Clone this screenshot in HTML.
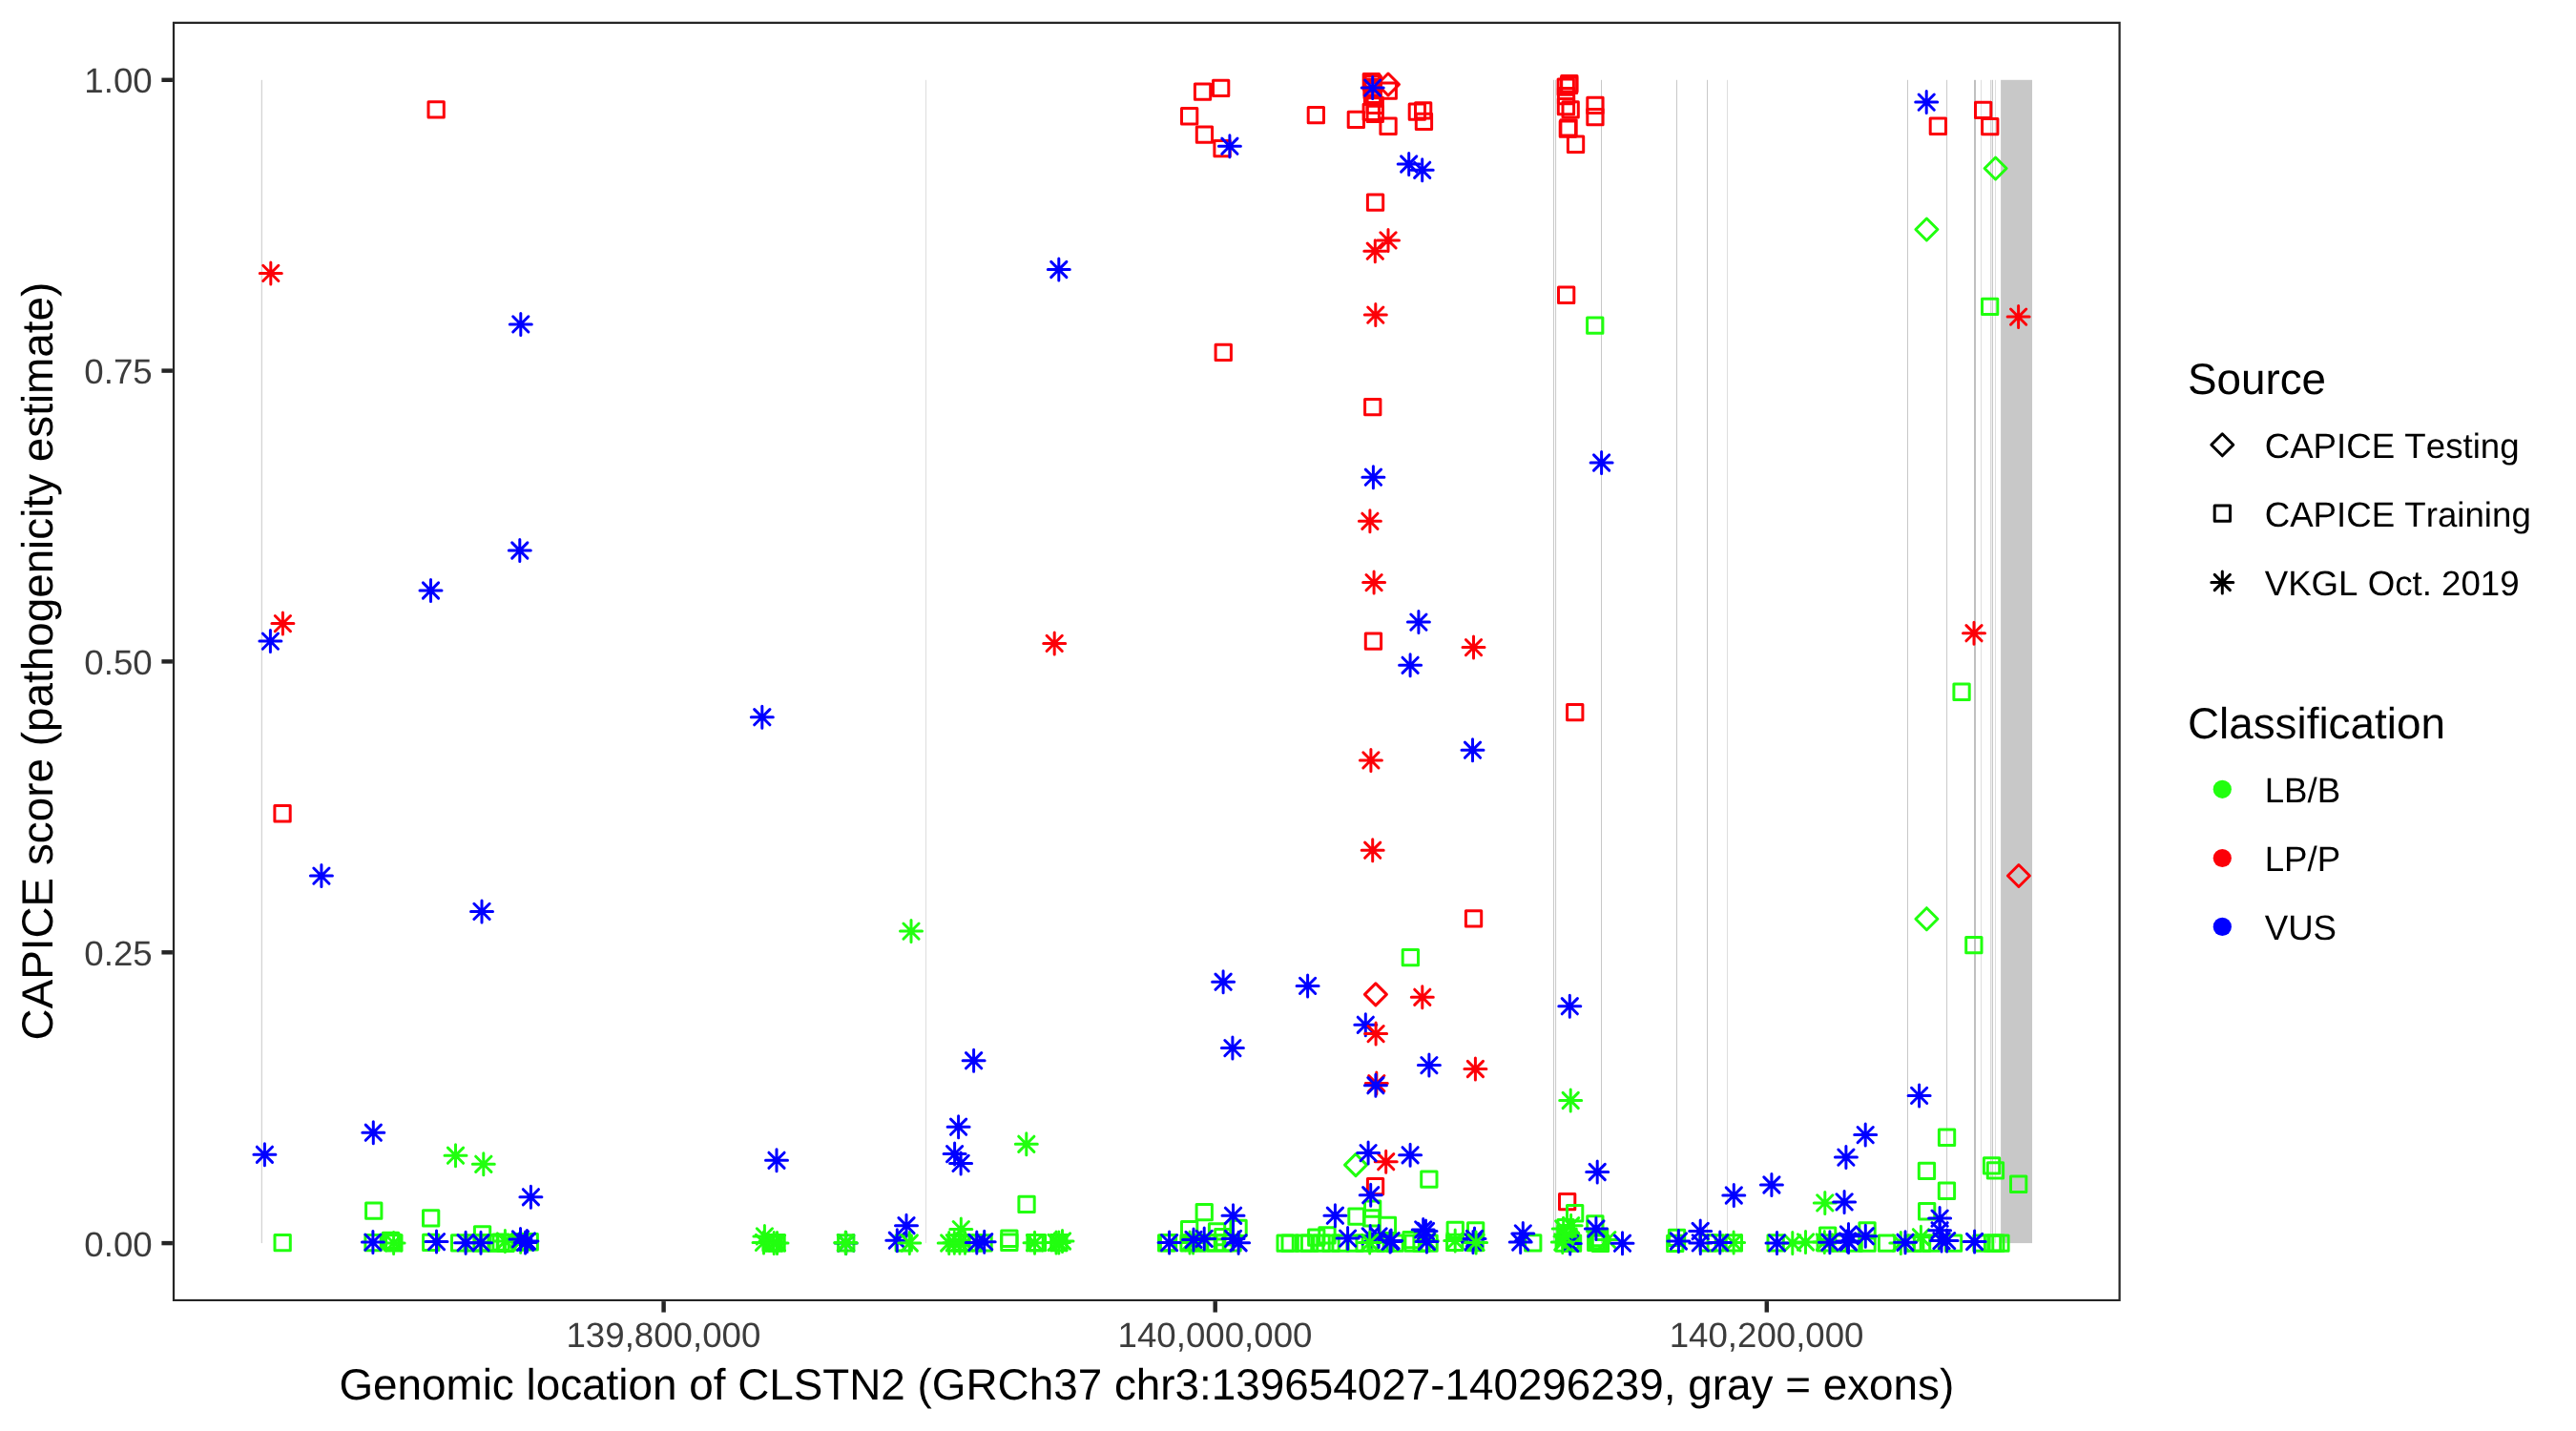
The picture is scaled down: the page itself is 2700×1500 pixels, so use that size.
<!DOCTYPE html>
<html lang="en"><head><meta charset="utf-8"><title>CAPICE score – CLSTN2</title>
<style>
html,body{margin:0;padding:0;background:#fff}
body{width:2700px;height:1500px;overflow:hidden}
svg{display:block;will-change:transform;transform:translateZ(0)}
text{font-family:"Liberation Sans",sans-serif;text-rendering:geometricPrecision;font-kerning:none}
.tk{font-size:36.67px;fill:#3C3C3C}
.ti{font-size:45.83px;fill:#000}
.lg{font-size:36.67px;fill:#000}
.r,.g,.b,.k{fill:none;stroke-width:3.0;stroke-linecap:round;stroke-linejoin:round}
.r{stroke:#FC0008}.g{stroke:#21FF0F}.b{stroke:#0000FF}.k{stroke:#000}
.ax{stroke:#252525;stroke-width:4.45;fill:none}
</style></head><body>
<svg width="2700" height="1500" viewBox="0 0 2700 1500">
<clipPath id="pc"><rect x="180.9" y="22.8" width="2041.7999999999997" height="1341.3"/></clipPath>
<g clip-path="url(#pc)">
<g>
<rect x="273.80" y="83.8" width="1.0" height="1219.3" fill="#C8C8C8"/>
<rect x="970.2" y="83.8" width="0.8" height="1219.3" fill="#D6D6D6"/>
<rect x="1628.00" y="83.8" width="1.0" height="1219.3" fill="#C8C8C8"/>
<rect x="1630.10" y="83.8" width="1.0" height="1219.3" fill="#C8C8C8"/>
<rect x="1678.00" y="83.8" width="1.0" height="1219.3" fill="#C8C8C8"/>
<rect x="1757.00" y="83.8" width="1.0" height="1219.3" fill="#C8C8C8"/>
<rect x="1789.00" y="83.8" width="1.0" height="1219.3" fill="#C8C8C8"/>
<rect x="1810" y="83.8" width="0.8" height="1219.3" fill="#D6D6D6"/>
<rect x="1999.00" y="83.8" width="1.0" height="1219.3" fill="#C8C8C8"/>
<rect x="2040.10" y="83.8" width="1.0" height="1219.3" fill="#C8C8C8"/>
<rect x="2069" y="83.8" width="2.0" height="1219.3" fill="#C0C0C0"/>
<rect x="2076.2" y="83.8" width="0.8" height="1219.3" fill="#D6D6D6"/>
<rect x="2086.30" y="83.8" width="1.0" height="1219.3" fill="#C8C8C8"/>
<rect x="2088.00" y="83.8" width="1.0" height="1219.3" fill="#C8C8C8"/>
<rect x="2091.2" y="83.8" width="0.8" height="1219.3" fill="#D6D6D6"/>
<rect x="2097.1" y="83.8" width="32.9" height="1219.3" fill="#C8C8C8"/>
</g>
<g>
<rect class="r" x="449" y="106.8" width="16.3" height="16.3"/>
<rect class="r" x="287.9" y="844.6" width="16.3" height="16.3"/>
<rect class="r" x="1252.4" y="88" width="16.3" height="16.3"/>
<rect class="r" x="1271.5" y="84.3" width="16.3" height="16.3"/>
<rect class="r" x="1238.5" y="113.6" width="16.3" height="16.3"/>
<rect class="r" x="1254.3" y="133" width="16.3" height="16.3"/>
<rect class="r" x="1272.9" y="147.4" width="16.3" height="16.3"/>
<rect class="r" x="1371.2" y="112.5" width="16.3" height="16.3"/>
<rect class="r" x="1413.2" y="117.2" width="16.3" height="16.3"/>
<rect class="r" x="1446.9" y="124.1" width="16.3" height="16.3"/>
<rect class="r" x="1477.2" y="109" width="16.3" height="16.3"/>
<rect class="r" x="1483.5" y="107.7" width="16.3" height="16.3"/>
<rect class="r" x="1484.3" y="119.3" width="16.3" height="16.3"/>
<rect class="r" x="1447.1" y="87" width="16.3" height="16.3"/>
<rect class="r" x="1429.2" y="77.4" width="16.3" height="16.3"/>
<rect class="r" x="1430.1" y="78.7" width="16.3" height="16.3"/>
<rect class="r" x="1431.1" y="79.9" width="16.3" height="16.3"/>
<rect class="r" x="1430.1" y="83.4" width="16.3" height="16.3"/>
<rect class="r" x="1430.1" y="86.4" width="16.3" height="16.3"/>
<rect class="r" x="1430.4" y="91.1" width="16.3" height="16.3"/>
<rect class="r" x="1430.9" y="92.9" width="16.3" height="16.3"/>
<rect class="r" x="1433.1" y="102.3" width="16.3" height="16.3"/>
<rect class="r" x="1429.1" y="109.3" width="16.3" height="16.3"/>
<rect class="r" x="1433.1" y="111.3" width="16.3" height="16.3"/>
<rect class="r" x="1433.4" y="204" width="16.3" height="16.3"/>
<rect class="r" x="1274.1" y="361.2" width="16.3" height="16.3"/>
<rect class="r" x="1633.5" y="301.1" width="16.3" height="16.3"/>
<rect class="r" x="1636.7" y="79.6" width="16.3" height="16.3"/>
<rect class="r" x="1633.1" y="82.9" width="16.3" height="16.3"/>
<rect class="r" x="1636.4" y="81.1" width="16.3" height="16.3"/>
<rect class="r" x="1633.4" y="92.4" width="16.3" height="16.3"/>
<rect class="r" x="1638" y="106.8" width="16.3" height="16.3"/>
<rect class="r" x="1633.3" y="103.5" width="16.3" height="16.3"/>
<rect class="r" x="1635.2" y="127" width="16.3" height="16.3"/>
<rect class="r" x="1635.9" y="125.7" width="16.3" height="16.3"/>
<rect class="r" x="1643.4" y="143.1" width="16.3" height="16.3"/>
<rect class="r" x="1663.8" y="102.2" width="16.3" height="16.3"/>
<rect class="r" x="1663.8" y="114.4" width="16.3" height="16.3"/>
<rect class="r" x="1430.6" y="418.5" width="16.3" height="16.3"/>
<rect class="r" x="1431.3" y="664" width="16.3" height="16.3"/>
<rect class="r" x="1642.6" y="738.5" width="16.3" height="16.3"/>
<rect class="r" x="1536.4" y="954.7" width="16.3" height="16.3"/>
<rect class="r" x="1433.4" y="1235.4" width="16.3" height="16.3"/>
<rect class="r" x="1634.5" y="1251.4" width="16.3" height="16.3"/>
<rect class="r" x="2023.2" y="124.1" width="16.3" height="16.3"/>
<rect class="r" x="2070.5" y="107.3" width="16.3" height="16.3"/>
<rect class="r" x="2077.6" y="124.4" width="16.3" height="16.3"/>
<rect class="g" x="383.6" y="1261" width="16.3" height="16.3"/>
<rect class="g" x="443.5" y="1268.7" width="16.3" height="16.3"/>
<rect class="g" x="288" y="1294.4" width="16.3" height="16.3"/>
<rect class="g" x="382.9" y="1294.5" width="16.3" height="16.3"/>
<rect class="g" x="401.3" y="1292.2" width="16.3" height="16.3"/>
<rect class="g" x="404.7" y="1294.7" width="16.3" height="16.3"/>
<rect class="g" x="402.9" y="1293.9" width="16.3" height="16.3"/>
<rect class="g" x="443.6" y="1294.3" width="16.3" height="16.3"/>
<rect class="g" x="473.5" y="1294.7" width="16.3" height="16.3"/>
<rect class="g" x="497.4" y="1285.8" width="16.3" height="16.3"/>
<rect class="g" x="511.9" y="1294.9" width="16.3" height="16.3"/>
<rect class="g" x="516.9" y="1293.9" width="16.3" height="16.3"/>
<rect class="g" x="521.9" y="1295.1" width="16.3" height="16.3"/>
<rect class="g" x="536.9" y="1293.6" width="16.3" height="16.3"/>
<rect class="g" x="547.1" y="1293.6" width="16.3" height="16.3"/>
<rect class="g" x="799.9" y="1294.6" width="16.3" height="16.3"/>
<rect class="g" x="803.1" y="1294.6" width="16.3" height="16.3"/>
<rect class="g" x="805.9" y="1294.6" width="16.3" height="16.3"/>
<rect class="g" x="878.6" y="1294.8" width="16.3" height="16.3"/>
<rect class="g" x="939.1" y="1294.8" width="16.3" height="16.3"/>
<rect class="g" x="993.9" y="1294.7" width="16.3" height="16.3"/>
<rect class="g" x="999.9" y="1294.7" width="16.3" height="16.3"/>
<rect class="g" x="1011.9" y="1294.7" width="16.3" height="16.3"/>
<rect class="g" x="1022.9" y="1294.7" width="16.3" height="16.3"/>
<rect class="g" x="1049.7" y="1290.1" width="16.3" height="16.3"/>
<rect class="g" x="1049.7" y="1294.1" width="16.3" height="16.3"/>
<rect class="g" x="1067.9" y="1254.3" width="16.3" height="16.3"/>
<rect class="g" x="1076.9" y="1294.5" width="16.3" height="16.3"/>
<rect class="g" x="1079.3" y="1294.4" width="16.3" height="16.3"/>
<rect class="g" x="1101.7" y="1294.4" width="16.3" height="16.3"/>
<rect class="g" x="1214.5" y="1294.8" width="16.3" height="16.3"/>
<rect class="g" x="1216.4" y="1294.4" width="16.3" height="16.3"/>
<rect class="g" x="1254.1" y="1262.4" width="16.3" height="16.3"/>
<rect class="g" x="1238.5" y="1280.4" width="16.3" height="16.3"/>
<rect class="g" x="1267.4" y="1282.7" width="16.3" height="16.3"/>
<rect class="g" x="1289.9" y="1279.2" width="16.3" height="16.3"/>
<rect class="g" x="1273.7" y="1288.5" width="16.3" height="16.3"/>
<rect class="g" x="1237.9" y="1294.8" width="16.3" height="16.3"/>
<rect class="g" x="1246.9" y="1294.8" width="16.3" height="16.3"/>
<rect class="g" x="1256.9" y="1294.8" width="16.3" height="16.3"/>
<rect class="g" x="1265.9" y="1294.8" width="16.3" height="16.3"/>
<rect class="g" x="1274.9" y="1294.8" width="16.3" height="16.3"/>
<rect class="g" x="1283.9" y="1294.8" width="16.3" height="16.3"/>
<rect class="g" x="1339" y="1294.9" width="16.3" height="16.3"/>
<rect class="g" x="1344" y="1294.9" width="16.3" height="16.3"/>
<rect class="g" x="1358.5" y="1294.9" width="16.3" height="16.3"/>
<rect class="g" x="1364.4" y="1294.9" width="16.3" height="16.3"/>
<rect class="g" x="1371.6" y="1288.9" width="16.3" height="16.3"/>
<rect class="g" x="1382.8" y="1286.8" width="16.3" height="16.3"/>
<rect class="g" x="1376.9" y="1294.9" width="16.3" height="16.3"/>
<rect class="g" x="1386.9" y="1294.9" width="16.3" height="16.3"/>
<rect class="g" x="1396.9" y="1294.9" width="16.3" height="16.3"/>
<rect class="g" x="1413.8" y="1266.9" width="16.3" height="16.3"/>
<rect class="g" x="1430.5" y="1258.9" width="16.3" height="16.3"/>
<rect class="g" x="1429.5" y="1268.7" width="16.3" height="16.3"/>
<rect class="g" x="1446.3" y="1276.2" width="16.3" height="16.3"/>
<rect class="g" x="1411.9" y="1294.9" width="16.3" height="16.3"/>
<rect class="g" x="1421.9" y="1294.9" width="16.3" height="16.3"/>
<rect class="g" x="1433.9" y="1294.9" width="16.3" height="16.3"/>
<rect class="g" x="1443.9" y="1294.9" width="16.3" height="16.3"/>
<rect class="g" x="1453.9" y="1294.9" width="16.3" height="16.3"/>
<rect class="g" x="1471" y="1291.5" width="16.3" height="16.3"/>
<rect class="g" x="1472.9" y="1294.9" width="16.3" height="16.3"/>
<rect class="g" x="1481.9" y="1294.9" width="16.3" height="16.3"/>
<rect class="g" x="1489.9" y="1294.9" width="16.3" height="16.3"/>
<rect class="g" x="1517.1" y="1281.3" width="16.3" height="16.3"/>
<rect class="g" x="1538.5" y="1281.7" width="16.3" height="16.3"/>
<rect class="g" x="1516.6" y="1294.3" width="16.3" height="16.3"/>
<rect class="g" x="1537.9" y="1294.5" width="16.3" height="16.3"/>
<rect class="g" x="1489.7" y="1227.9" width="16.3" height="16.3"/>
<rect class="g" x="1470.2" y="995.5" width="16.3" height="16.3"/>
<rect class="g" x="1598.6" y="1294.8" width="16.3" height="16.3"/>
<rect class="g" x="1642.5" y="1263.6" width="16.3" height="16.3"/>
<rect class="g" x="1663.7" y="1274.8" width="16.3" height="16.3"/>
<rect class="g" x="1632.9" y="1278.5" width="16.3" height="16.3"/>
<rect class="g" x="1631.1" y="1294.9" width="16.3" height="16.3"/>
<rect class="g" x="1640.4" y="1294.9" width="16.3" height="16.3"/>
<rect class="g" x="1635.9" y="1287.9" width="16.3" height="16.3"/>
<rect class="g" x="1664.6" y="1294.3" width="16.3" height="16.3"/>
<rect class="g" x="1669.3" y="1295.1" width="16.3" height="16.3"/>
<rect class="g" x="1665.9" y="1289.4" width="16.3" height="16.3"/>
<rect class="g" x="1666.9" y="1292.4" width="16.3" height="16.3"/>
<rect class="g" x="1632.9" y="1284.9" width="16.3" height="16.3"/>
<rect class="g" x="1637.9" y="1291.9" width="16.3" height="16.3"/>
<rect class="g" x="486.9" y="1294.7" width="16.3" height="16.3"/>
<rect class="g" x="496.9" y="1294.7" width="16.3" height="16.3"/>
<rect class="g" x="504.9" y="1294.7" width="16.3" height="16.3"/>
<rect class="g" x="1749.4" y="1289.2" width="16.3" height="16.3"/>
<rect class="g" x="1747.6" y="1295.3" width="16.3" height="16.3"/>
<rect class="g" x="1781.9" y="1294.8" width="16.3" height="16.3"/>
<rect class="g" x="1790.1" y="1294.8" width="16.3" height="16.3"/>
<rect class="g" x="1809.2" y="1294.8" width="16.3" height="16.3"/>
<rect class="g" x="1853" y="1294.8" width="16.3" height="16.3"/>
<rect class="g" x="1907.5" y="1286.9" width="16.3" height="16.3"/>
<rect class="g" x="1905.1" y="1294.8" width="16.3" height="16.3"/>
<rect class="g" x="1948.9" y="1281.7" width="16.3" height="16.3"/>
<rect class="g" x="1920.9" y="1294.9" width="16.3" height="16.3"/>
<rect class="g" x="1934.9" y="1294.9" width="16.3" height="16.3"/>
<rect class="g" x="1948.9" y="1294.9" width="16.3" height="16.3"/>
<rect class="g" x="1969.4" y="1294.9" width="16.3" height="16.3"/>
<rect class="g" x="1996.9" y="1294.9" width="16.3" height="16.3"/>
<rect class="g" x="2006.4" y="1294.9" width="16.3" height="16.3"/>
<rect class="g" x="2015.9" y="1294.9" width="16.3" height="16.3"/>
<rect class="g" x="2039.4" y="1294.9" width="16.3" height="16.3"/>
<rect class="g" x="2032.3" y="1240.1" width="16.3" height="16.3"/>
<rect class="g" x="2011.5" y="1261.6" width="16.3" height="16.3"/>
<rect class="g" x="2107.5" y="1233.1" width="16.3" height="16.3"/>
<rect class="g" x="2068.8" y="1294.9" width="16.3" height="16.3"/>
<rect class="g" x="2080.4" y="1294.9" width="16.3" height="16.3"/>
<rect class="g" x="2083.7" y="1294.9" width="16.3" height="16.3"/>
<rect class="g" x="2088.8" y="1294.9" width="16.3" height="16.3"/>
<rect class="g" x="1663.6" y="332.9" width="16.3" height="16.3"/>
<rect class="g" x="2077.5" y="313.3" width="16.3" height="16.3"/>
<rect class="g" x="2047.9" y="717.1" width="16.3" height="16.3"/>
<rect class="g" x="2060.7" y="982.4" width="16.3" height="16.3"/>
<rect class="g" x="2032.4" y="1184.1" width="16.3" height="16.3"/>
<rect class="g" x="2011.3" y="1219.2" width="16.3" height="16.3"/>
<rect class="g" x="2079.4" y="1213.8" width="16.3" height="16.3"/>
<rect class="g" x="2083.3" y="1218.8" width="16.3" height="16.3"/>
<path class="r" d="M1443.5 88.5L1455 77L1466.5 88.5L1455 100Z"/>
<path class="r" d="M1430.4 1042.4L1441.9 1030.9L1453.4 1042.4L1441.9 1053.9Z"/>
<path class="r" d="M2104.4 918L2115.9 906.5L2127.4 918L2115.9 929.5Z"/>
<path class="g" d="M2080.1 176.5L2091.6 165L2103.1 176.5L2091.6 188Z"/>
<path class="g" d="M2007.9 240.5L2019.4 229L2030.9 240.5L2019.4 252Z"/>
<path class="g" d="M2007.9 963.2L2019.4 951.7L2030.9 963.2L2019.4 974.7Z"/>
<path class="g" d="M1409.5 1221.1L1421 1209.6L1432.5 1221.1L1421 1232.6Z"/>
<path class="b" d="M1634.2 1303.4H1657.2M1645.7 1291.9V1314.9M1637.6 1295.3L1653.8 1311.5M1637.6 1311.5L1653.8 1295.3"/>
<path class="b" d="M875.2 1303H898.2M886.7 1291.5V1314.5M878.6 1294.9L894.8 1311.1M878.6 1311.1L894.8 1294.9"/>
<path class="g" d="M401.1 1302.9H424.1M412.6 1291.4V1314.4M404.5 1294.8L420.7 1311M404.5 1311L420.7 1294.8"/>
<path class="g" d="M517.9 1301H540.9M529.4 1289.5V1312.5M521.3 1292.9L537.5 1309.1M521.3 1309.1L537.5 1292.9"/>
<path class="g" d="M534.2 1301.7H557.2M545.7 1290.2V1313.2M537.6 1293.6L553.8 1309.8M537.6 1309.8L553.8 1293.6"/>
<path class="g" d="M466 1211.2H489M477.5 1199.7V1222.7M469.4 1203.1L485.6 1219.3M469.4 1219.3L485.6 1203.1"/>
<path class="g" d="M495.3 1220.3H518.3M506.8 1208.8V1231.8M498.7 1212.2L514.9 1228.4M498.7 1228.4L514.9 1212.2"/>
<path class="g" d="M943.5 976.1H966.5M955 964.6V987.6M946.9 968L963.1 984.2M946.9 984.2L963.1 968"/>
<path class="g" d="M789.9 1295.9H812.9M801.4 1284.4V1307.4M793.3 1287.8L809.5 1304M793.3 1304L809.5 1287.8"/>
<path class="g" d="M789 1302.4H812M800.5 1290.9V1313.9M792.4 1294.3L808.6 1310.5M792.4 1310.5L808.6 1294.3"/>
<path class="g" d="M799.7 1302.9H822.7M811.2 1291.4V1314.4M803.1 1294.8L819.3 1311M803.1 1311L819.3 1294.8"/>
<path class="g" d="M803 1302.9H826M814.5 1291.4V1314.4M806.4 1294.8L822.6 1311M806.4 1311L822.6 1294.8"/>
<path class="g" d="M875.2 1303H898.2M886.7 1291.5V1314.5M878.6 1294.9L894.8 1311.1M878.6 1311.1L894.8 1294.9"/>
<path class="g" d="M874.7 1302.6H897.7M886.2 1291.1V1314.1M878.1 1294.5L894.3 1310.7M878.1 1310.7L894.3 1294.5"/>
<path class="g" d="M995.8 1288.6H1018.8M1007.3 1277.1V1300.1M999.2 1280.5L1015.4 1296.7M999.2 1296.7L1015.4 1280.5"/>
<path class="g" d="M983.2 1303H1006.2M994.7 1291.5V1314.5M986.6 1294.9L1002.8 1311.1M986.6 1311.1L1002.8 1294.9"/>
<path class="g" d="M988.8 1302.8H1011.8M1000.3 1291.3V1314.3M992.2 1294.7L1008.4 1310.9M992.2 1310.9L1008.4 1294.7"/>
<path class="g" d="M994.4 1302.8H1017.4M1005.9 1291.3V1314.3M997.8 1294.7L1014 1310.9M997.8 1310.9L1014 1294.7"/>
<path class="g" d="M1000 1302.8H1023M1011.5 1291.3V1314.3M1003.4 1294.7L1019.6 1310.9M1003.4 1310.9L1019.6 1294.7"/>
<path class="g" d="M1064.3 1199.3H1087.3M1075.8 1187.8V1210.8M1067.7 1191.2L1083.9 1207.4M1067.7 1207.4L1083.9 1191.2"/>
<path class="g" d="M1073 1302.7H1096M1084.5 1291.2V1314.2M1076.4 1294.6L1092.6 1310.8M1076.4 1310.8L1092.6 1294.6"/>
<path class="g" d="M1098.3 1302.5H1121.3M1109.8 1291V1314M1101.7 1294.4L1117.9 1310.6M1101.7 1310.6L1117.9 1294.4"/>
<path class="g" d="M1102 1301H1125M1113.5 1289.5V1312.5M1105.4 1292.9L1121.6 1309.1M1105.4 1309.1L1121.6 1292.9"/>
<path class="g" d="M1095.5 1302.4H1118.5M1107 1290.9V1313.9M1098.9 1294.3L1115.1 1310.5M1098.9 1310.5L1115.1 1294.3"/>
<path class="g" d="M1239.1 1302.6H1262.1M1250.6 1291.1V1314.1M1242.5 1294.5L1258.7 1310.7M1242.5 1310.7L1258.7 1294.5"/>
<path class="g" d="M1235.5 1302.6H1258.5M1247 1291.1V1314.1M1238.9 1294.5L1255.1 1310.7M1238.9 1310.7L1255.1 1294.5"/>
<path class="g" d="M1634.7 1153.5H1657.7M1646.2 1142V1165M1638.1 1145.4L1654.3 1161.6M1638.1 1161.6L1654.3 1145.4"/>
<path class="g" d="M1635.1 1284.7H1658.1M1646.6 1273.2V1296.2M1638.5 1276.6L1654.7 1292.8M1638.5 1292.8L1654.7 1276.6"/>
<path class="g" d="M1627.2 1288H1650.2M1638.7 1276.5V1299.5M1630.6 1279.9L1646.8 1296.1M1630.6 1296.1L1646.8 1279.9"/>
<path class="g" d="M1626.3 1302H1649.3M1637.8 1290.5V1313.5M1629.7 1293.9L1645.9 1310.1M1629.7 1310.1L1645.9 1293.9"/>
<path class="g" d="M1629 1296H1652M1640.5 1284.5V1307.5M1632.4 1287.9L1648.6 1304.1M1632.4 1304.1L1648.6 1287.9"/>
<path class="g" d="M1673.3 1299.6H1696.3M1684.8 1288.1V1311.1M1676.7 1291.5L1692.9 1307.7M1676.7 1307.7L1692.9 1291.5"/>
<path class="g" d="M1805.6 1302.6H1828.6M1817.1 1291.1V1314.1M1809 1294.5L1825.2 1310.7M1809 1310.7L1825.2 1294.5"/>
<path class="g" d="M1867.3 1302.9H1890.3M1878.8 1291.4V1314.4M1870.7 1294.8L1886.9 1311M1870.7 1311L1886.9 1294.8"/>
<path class="g" d="M1881 1302H1904M1892.5 1290.5V1313.5M1884.4 1293.9L1900.6 1310.1M1884.4 1310.1L1900.6 1293.9"/>
<path class="g" d="M1901.3 1260.9H1924.3M1912.8 1249.4V1272.4M1904.7 1252.8L1920.9 1269M1904.7 1269L1920.9 1252.8"/>
<path class="g" d="M1900.8 1302H1923.8M1912.3 1290.5V1313.5M1904.2 1293.9L1920.4 1310.1M1904.2 1310.1L1920.4 1293.9"/>
<path class="g" d="M1980.8 1302.9H2003.8M1992.3 1291.4V1314.4M1984.2 1294.8L2000.4 1311M1984.2 1311L2000.4 1294.8"/>
<path class="g" d="M2001.9 1296.8H2024.9M2013.4 1285.3V1308.3M2005.3 1288.7L2021.5 1304.9M2005.3 1304.9L2021.5 1288.7"/>
<path class="g" d="M1513.7 1300.6H1536.7M1525.2 1289.1V1312.1M1517.1 1292.5L1533.3 1308.7M1517.1 1308.7L1533.3 1292.5"/>
<path class="g" d="M1484.3 1300.4H1507.3M1495.8 1288.9V1311.9M1487.7 1292.3L1503.9 1308.5M1487.7 1308.5L1503.9 1292.3"/>
<path class="r" d="M272.3 286.4H295.3M283.8 274.9V297.9M275.7 278.3L291.9 294.5M275.7 294.5L291.9 278.3"/>
<path class="r" d="M284.9 653.6H307.9M296.4 642.1V665.1M288.3 645.5L304.5 661.7M288.3 661.7L304.5 645.5"/>
<path class="r" d="M1093.7 674.4H1116.7M1105.2 662.9V685.9M1097.1 666.3L1113.3 682.5M1097.1 682.5L1113.3 666.3"/>
<path class="r" d="M1443.5 251.9H1466.5M1455 240.4V263.4M1446.9 243.8L1463.1 260M1446.9 260L1463.1 243.8"/>
<path class="r" d="M1429.8 263.2H1452.8M1441.3 251.7V274.7M1433.2 255.1L1449.4 271.3M1433.2 271.3L1449.4 255.1"/>
<path class="r" d="M1430.3 330.1H1453.3M1441.8 318.6V341.6M1433.7 322L1449.9 338.2M1433.7 338.2L1449.9 322"/>
<path class="r" d="M1424.4 546.3H1447.4M1435.9 534.8V557.8M1427.8 538.2L1444 554.4M1427.8 554.4L1444 538.2"/>
<path class="r" d="M1428.6 610.6H1451.6M1440.1 599.1V622.1M1432 602.5L1448.2 618.7M1432 618.7L1448.2 602.5"/>
<path class="r" d="M1533 678.6H1556M1544.5 667.1V690.1M1536.4 670.5L1552.6 686.7M1536.4 686.7L1552.6 670.5"/>
<path class="r" d="M1425.4 796.9H1448.4M1436.9 785.4V808.4M1428.8 788.8L1445 805M1428.8 805L1445 788.8"/>
<path class="r" d="M1427.2 891.2H1450.2M1438.7 879.7V902.7M1430.6 883.1L1446.8 899.3M1430.6 899.3L1446.8 883.1"/>
<path class="r" d="M1479.3 1045.3H1502.3M1490.8 1033.8V1056.8M1482.7 1037.2L1498.9 1053.4M1482.7 1053.4L1498.9 1037.2"/>
<path class="r" d="M1534.9 1120.5H1557.9M1546.4 1109V1132M1538.3 1112.4L1554.5 1128.6M1538.3 1128.6L1554.5 1112.4"/>
<path class="r" d="M1431.3 1135.6H1454.3M1442.8 1124.1V1147.1M1434.7 1127.5L1450.9 1143.7M1434.7 1143.7L1450.9 1127.5"/>
<path class="r" d="M1441.2 1217.7H1464.2M1452.7 1206.2V1229.2M1444.6 1209.6L1460.8 1225.8M1444.6 1225.8L1460.8 1209.6"/>
<path class="r" d="M2104.1 332.1H2127.1M2115.6 320.6V343.6M2107.5 324L2123.7 340.2M2107.5 340.2L2123.7 324"/>
<path class="r" d="M2057.5 663.7H2080.5M2069 652.2V675.2M2060.9 655.6L2077.1 671.8M2060.9 671.8L2077.1 655.6"/>
<path class="b" d="M534.3 339.9H557.3M545.8 328.4V351.4M537.7 331.8L553.9 348M537.7 348L553.9 331.8"/>
<path class="b" d="M533.3 577H556.3M544.8 565.5V588.5M536.7 568.9L552.9 585.1M536.7 585.1L552.9 568.9"/>
<path class="b" d="M440 619H463M451.5 607.5V630.5M443.4 610.9L459.6 627.1M443.4 627.1L459.6 610.9"/>
<path class="b" d="M271.9 672.1H294.9M283.4 660.6V683.6M275.3 664L291.5 680.2M275.3 680.2L291.5 664"/>
<path class="b" d="M787.3 751.7H810.3M798.8 740.2V763.2M790.7 743.6L806.9 759.8M790.7 759.8L806.9 743.6"/>
<path class="b" d="M325.4 918.1H348.4M336.9 906.6V929.6M328.8 910L345 926.2M328.8 926.2L345 910"/>
<path class="b" d="M493.5 955.4H516.5M505 943.9V966.9M496.9 947.3L513.1 963.5M496.9 963.5L513.1 947.3"/>
<path class="b" d="M265.9 1210.3H288.9M277.4 1198.8V1221.8M269.3 1202.2L285.5 1218.4M269.3 1218.4L285.5 1202.2"/>
<path class="b" d="M379.8 1187.2H402.8M391.3 1175.7V1198.7M383.2 1179.1L399.4 1195.3M383.2 1195.3L399.4 1179.1"/>
<path class="b" d="M544.9 1254.8H567.9M556.4 1243.3V1266.3M548.3 1246.7L564.5 1262.9M548.3 1262.9L564.5 1246.7"/>
<path class="b" d="M379.4 1302.1H402.4M390.9 1290.6V1313.6M382.8 1294L399 1310.2M382.8 1310.2L399 1294"/>
<path class="b" d="M446 1301.6H469M457.5 1290.1V1313.1M449.4 1293.5L465.6 1309.7M449.4 1309.7L465.6 1293.5"/>
<path class="b" d="M476.6 1302.7H499.6M488.1 1291.2V1314.2M480 1294.6L496.2 1310.8M480 1310.8L496.2 1294.6"/>
<path class="b" d="M492.5 1302.7H515.5M504 1291.2V1314.2M495.9 1294.6L512.1 1310.8M495.9 1310.8L512.1 1294.6"/>
<path class="b" d="M534 1298.9H557M545.5 1287.4V1310.4M537.4 1290.8L553.6 1307M537.4 1307L553.6 1290.8"/>
<path class="b" d="M540.9 1301H563.9M552.4 1289.5V1312.5M544.3 1292.9L560.5 1309.1M544.3 1309.1L560.5 1292.9"/>
<path class="b" d="M539.1 1302.4H562.1M550.6 1290.9V1313.9M542.5 1294.3L558.7 1310.5M542.5 1310.5L558.7 1294.3"/>
<path class="b" d="M802.5 1216.3H825.5M814 1204.8V1227.8M805.9 1208.2L822.1 1224.4M805.9 1224.4L822.1 1208.2"/>
<path class="b" d="M1009.1 1111.7H1032.1M1020.6 1100.2V1123.2M1012.5 1103.6L1028.7 1119.8M1012.5 1119.8L1028.7 1103.6"/>
<path class="b" d="M993.1 1181.2H1016.1M1004.6 1169.7V1192.7M996.5 1173.1L1012.7 1189.3M996.5 1189.3L1012.7 1173.1"/>
<path class="b" d="M989.1 1209.6H1012.1M1000.6 1198.1V1221.1M992.5 1201.5L1008.7 1217.7M992.5 1217.7L1008.7 1201.5"/>
<path class="b" d="M995.6 1219.4H1018.6M1007.1 1207.9V1230.9M999 1211.3L1015.2 1227.5M999 1227.5L1015.2 1211.3"/>
<path class="b" d="M1280.4 1098.6H1303.4M1291.9 1087.1V1110.1M1283.8 1090.5L1300 1106.7M1283.8 1106.7L1300 1090.5"/>
<path class="b" d="M938.5 1284.7H961.5M950 1273.2V1296.2M941.9 1276.6L958.1 1292.8M941.9 1292.8L958.1 1276.6"/>
<path class="b" d="M928.8 1300.2H951.8M940.3 1288.7V1311.7M932.2 1292.1L948.4 1308.3M932.2 1308.3L948.4 1292.1"/>
<path class="b" d="M1012.3 1302.4H1035.3M1023.8 1290.9V1313.9M1015.7 1294.3L1031.9 1310.5M1015.7 1310.5L1031.9 1294.3"/>
<path class="b" d="M1020.2 1301.7H1043.2M1031.7 1290.2V1313.2M1023.6 1293.6L1039.8 1309.8M1023.6 1309.8L1039.8 1293.6"/>
<path class="b" d="M1281 1274.3H1304M1292.5 1262.8V1285.8M1284.4 1266.2L1300.6 1282.4M1284.4 1282.4L1300.6 1266.2"/>
<path class="b" d="M1214.1 1302.6H1237.1M1225.6 1291.1V1314.1M1217.5 1294.5L1233.7 1310.7M1217.5 1310.7L1233.7 1294.5"/>
<path class="b" d="M1250.7 1298.4H1273.7M1262.2 1286.9V1309.9M1254.1 1290.3L1270.3 1306.5M1254.1 1306.5L1270.3 1290.3"/>
<path class="b" d="M1239.5 1299.4H1262.5M1251 1287.9V1310.9M1242.9 1291.3L1259.1 1307.5M1242.9 1307.5L1259.1 1291.3"/>
<path class="b" d="M1281 1298.4H1304M1292.5 1286.9V1309.9M1284.4 1290.3L1300.6 1306.5M1284.4 1306.5L1300.6 1290.3"/>
<path class="b" d="M1286.6 1302.8H1309.6M1298.1 1291.3V1314.3M1290 1294.7L1306.2 1310.9M1290 1310.9L1306.2 1294.7"/>
<path class="b" d="M1387.9 1274.2H1410.9M1399.4 1262.7V1285.7M1391.3 1266.1L1407.5 1282.3M1391.3 1282.3L1407.5 1266.1"/>
<path class="b" d="M1401.1 1298.1H1424.1M1412.6 1286.6V1309.6M1404.5 1290L1420.7 1306.2M1404.5 1306.2L1420.7 1290"/>
<path class="b" d="M1098.3 282.5H1121.3M1109.8 271V294M1101.7 274.4L1117.9 290.6M1101.7 290.6L1117.9 274.4"/>
<path class="b" d="M1277.4 153.2H1300.4M1288.9 141.7V164.7M1280.8 145.1L1297 161.3M1280.8 161.3L1297 145.1"/>
<path class="b" d="M1465.2 172H1488.2M1476.7 160.5V183.5M1468.6 163.9L1484.8 180.1M1468.6 180.1L1484.8 163.9"/>
<path class="b" d="M1479.2 178.3H1502.2M1490.7 166.8V189.8M1482.6 170.2L1498.8 186.4M1482.6 186.4L1498.8 170.2"/>
<path class="b" d="M1427.2 92.1H1450.2M1438.7 80.6V103.6M1430.6 84L1446.8 100.2M1430.6 100.2L1446.8 84"/>
<path class="b" d="M1427.9 500.2H1450.9M1439.4 488.7V511.7M1431.3 492.1L1447.5 508.3M1431.3 508.3L1447.5 492.1"/>
<path class="b" d="M1475.4 652.1H1498.4M1486.9 640.6V663.6M1478.8 644L1495 660.2M1478.8 660.2L1495 644"/>
<path class="b" d="M1466.6 697.3H1489.6M1478.1 685.8V708.8M1470 689.2L1486.2 705.4M1470 705.4L1486.2 689.2"/>
<path class="b" d="M1532 786.2H1555M1543.5 774.7V797.7M1535.4 778.1L1551.6 794.3M1535.4 794.3L1551.6 778.1"/>
<path class="b" d="M1667.1 485H1690.1M1678.6 473.5V496.5M1670.5 476.9L1686.7 493.1M1670.5 493.1L1686.7 476.9"/>
<path class="b" d="M1270.6 1029.2H1293.6M1282.1 1017.7V1040.7M1274 1021.1L1290.2 1037.3M1274 1037.3L1290.2 1021.1"/>
<path class="b" d="M1359.1 1033.4H1382.1M1370.6 1021.9V1044.9M1362.5 1025.3L1378.7 1041.5M1362.5 1041.5L1378.7 1025.3"/>
<path class="b" d="M1633.8 1054.7H1656.8M1645.3 1043.2V1066.2M1637.2 1046.6L1653.4 1062.8M1637.2 1062.8L1653.4 1046.6"/>
<path class="b" d="M1419.8 1074.3H1442.8M1431.3 1062.8V1085.8M1423.2 1066.2L1439.4 1082.4M1423.2 1082.4L1439.4 1066.2"/>
<path class="b" d="M1486.4 1116.6H1509.4M1497.9 1105.1V1128.1M1489.8 1108.5L1506 1124.7M1489.8 1124.7L1506 1108.5"/>
<path class="b" d="M1430.4 1137.7H1453.4M1441.9 1126.2V1149.2M1433.8 1129.6L1450 1145.8M1433.8 1145.8L1450 1129.6"/>
<path class="b" d="M1422.6 1208.6H1445.6M1434.1 1197.1V1220.1M1426 1200.5L1442.2 1216.7M1426 1216.7L1442.2 1200.5"/>
<path class="b" d="M1466.6 1210.8H1489.6M1478.1 1199.3V1222.3M1470 1202.7L1486.2 1218.9M1470 1218.9L1486.2 1202.7"/>
<path class="b" d="M1425.2 1252.7H1448.2M1436.7 1241.2V1264.2M1428.6 1244.6L1444.8 1260.8M1428.6 1260.8L1444.8 1244.6"/>
<path class="b" d="M1662.7 1228.5H1685.7M1674.2 1217V1240M1666.1 1220.4L1682.3 1236.6M1666.1 1236.6L1682.3 1220.4"/>
<path class="b" d="M1424.7 1295.9H1447.7M1436.2 1284.4V1307.4M1428.1 1287.8L1444.3 1304M1428.1 1304L1444.3 1287.8"/>
<path class="b" d="M1433.6 1295.9H1456.6M1445.1 1284.4V1307.4M1437 1287.8L1453.2 1304M1437 1304L1453.2 1287.8"/>
<path class="b" d="M1446.6 1300.6H1469.6M1458.1 1289.1V1312.1M1450 1292.5L1466.2 1308.7M1450 1308.7L1466.2 1292.5"/>
<path class="b" d="M1445.5 1301.4H1468.5M1457 1289.9V1312.9M1448.9 1293.3L1465.1 1309.5M1448.9 1309.5L1465.1 1293.3"/>
<path class="b" d="M1480.2 1288.9H1503.2M1491.7 1277.4V1300.4M1483.6 1280.8L1499.8 1297M1483.6 1297L1499.8 1280.8"/>
<path class="b" d="M1483 1290.5H1506M1494.5 1279V1302M1486.4 1282.4L1502.6 1298.6M1486.4 1298.6L1502.6 1282.4"/>
<path class="b" d="M1483.9 1301.5H1506.9M1495.4 1290V1313M1487.3 1293.4L1503.5 1309.6M1487.3 1309.6L1503.5 1293.4"/>
<path class="b" d="M1534 1298.5H1557M1545.5 1287V1310M1537.4 1290.4L1553.6 1306.6M1537.4 1306.6L1553.6 1290.4"/>
<path class="b" d="M1532.5 1302H1555.5M1544 1290.5V1313.5M1535.9 1293.9L1552.1 1310.1M1535.9 1310.1L1552.1 1293.9"/>
<path class="b" d="M1584.8 1292.9H1607.8M1596.3 1281.4V1304.4M1588.2 1284.8L1604.4 1301M1588.2 1301L1604.4 1284.8"/>
<path class="b" d="M1582.2 1302H1605.2M1593.7 1290.5V1313.5M1585.6 1293.9L1601.8 1310.1M1585.6 1310.1L1601.8 1293.9"/>
<path class="b" d="M1661.4 1288H1684.4M1672.9 1276.5V1299.5M1664.8 1279.9L1681 1296.1M1664.8 1296.1L1681 1279.9"/>
<path class="b" d="M1689 1303.2H1712M1700.5 1291.7V1314.7M1692.4 1295.1L1708.6 1311.3M1692.4 1311.3L1708.6 1295.1"/>
<path class="b" d="M1747.9 1301H1770.9M1759.4 1289.5V1312.5M1751.3 1292.9L1767.5 1309.1M1751.3 1309.1L1767.5 1292.9"/>
<path class="b" d="M1770.7 1290.5H1793.7M1782.2 1279V1302M1774.1 1282.4L1790.3 1298.6M1774.1 1298.6L1790.3 1282.4"/>
<path class="b" d="M1770.8 1302.9H1793.8M1782.3 1291.4V1314.4M1774.2 1294.8L1790.4 1311M1774.2 1311L1790.4 1294.8"/>
<path class="b" d="M1791.3 1302.6H1814.3M1802.8 1291.1V1314.1M1794.7 1294.5L1810.9 1310.7M1794.7 1310.7L1810.9 1294.5"/>
<path class="b" d="M1805.8 1253H1828.8M1817.3 1241.5V1264.5M1809.2 1244.9L1825.4 1261.1M1809.2 1261.1L1825.4 1244.9"/>
<path class="b" d="M1845.4 1242H1868.4M1856.9 1230.5V1253.5M1848.8 1233.9L1865 1250.1M1848.8 1250.1L1865 1233.9"/>
<path class="b" d="M1921.6 1259.9H1944.6M1933.1 1248.4V1271.4M1925 1251.8L1941.2 1268M1925 1268L1941.2 1251.8"/>
<path class="b" d="M1851 1302.9H1874M1862.5 1291.4V1314.4M1854.4 1294.8L1870.6 1311M1854.4 1311L1870.6 1294.8"/>
<path class="b" d="M1906.4 1302.2H1929.4M1917.9 1290.7V1313.7M1909.8 1294.1L1926 1310.3M1909.8 1310.3L1926 1294.1"/>
<path class="b" d="M1926 1294H1949M1937.5 1282.5V1305.5M1929.4 1285.9L1945.6 1302.1M1929.4 1302.1L1945.6 1285.9"/>
<path class="b" d="M1926 1302H1949M1937.5 1290.5V1313.5M1929.4 1293.9L1945.6 1310.1M1929.4 1310.1L1945.6 1293.9"/>
<path class="b" d="M1925 1301H1948M1936.5 1289.5V1312.5M1928.4 1292.9L1944.6 1309.1M1928.4 1309.1L1944.6 1292.9"/>
<path class="b" d="M1943.8 1295.7H1966.8M1955.3 1284.2V1307.2M1947.2 1287.6L1963.4 1303.8M1947.2 1303.8L1963.4 1287.6"/>
<path class="b" d="M1985.5 1302.3H2008.5M1997 1290.8V1313.8M1988.9 1294.2L2005.1 1310.4M1988.9 1310.4L2005.1 1294.2"/>
<path class="b" d="M2021.6 1277.1H2044.6M2033.1 1265.6V1288.6M2025 1269L2041.2 1285.2M2025 1285.2L2041.2 1269"/>
<path class="b" d="M2021.6 1289.8H2044.6M2033.1 1278.3V1301.3M2025 1281.7L2041.2 1297.9M2025 1297.9L2041.2 1281.7"/>
<path class="b" d="M2023.5 1300.6H2046.5M2035 1289.1V1312.1M2026.9 1292.5L2043.1 1308.7M2026.9 1308.7L2043.1 1292.5"/>
<path class="b" d="M2029.1 1300.6H2052.1M2040.6 1289.1V1312.1M2032.5 1292.5L2048.7 1308.7M2032.5 1308.7L2048.7 1292.5"/>
<path class="b" d="M2058.1 1301.5H2081.1M2069.6 1290V1313M2061.5 1293.4L2077.7 1309.6M2061.5 1309.6L2077.7 1293.4"/>
<path class="b" d="M2007.7 107.1H2030.7M2019.2 95.6V118.6M2011.1 99L2027.3 115.2M2011.1 115.2L2027.3 99"/>
<path class="b" d="M2000.1 1148.4H2023.1M2011.6 1136.9V1159.9M2003.5 1140.3L2019.7 1156.5M2003.5 1156.5L2019.7 1140.3"/>
<path class="b" d="M1943.7 1189.6H1966.7M1955.2 1178.1V1201.1M1947.1 1181.5L1963.3 1197.7M1947.1 1197.7L1963.3 1181.5"/>
<path class="b" d="M1923.4 1213.1H1946.4M1934.9 1201.6V1224.6M1926.8 1205L1943 1221.2M1926.8 1221.2L1943 1205"/>
<path class="r" d="M1430.6 1083.6H1453.6M1442.1 1072.1V1095.1M1434 1075.5L1450.2 1091.7M1434 1091.7L1450.2 1075.5"/>
<path class="g" d="M941.8 1303H964.8M953.3 1291.5V1314.5M945.2 1294.9L961.4 1311.1M945.2 1311.1L961.4 1294.9"/>
<path class="g" d="M1424.2 1302.4H1447.2M1435.7 1290.9V1313.9M1427.6 1294.3L1443.8 1310.5M1427.6 1310.5L1443.8 1294.3"/>
<path class="g" d="M1535.6 1302.4H1558.6M1547.1 1290.9V1313.9M1539 1294.3L1555.2 1310.5M1539 1310.5L1555.2 1294.3"/>
</g>
<rect class="ax" x="180.9" y="22.8" width="2041.7999999999997" height="1341.3"/>
</g>
<path class="ax" d="M169.4 1303.1H180.9"/>
<text class="tk" text-anchor="end" x="159.7" y="1317.1">0.00</text>
<path class="ax" d="M169.4 998.3H180.9"/>
<text class="tk" text-anchor="end" x="159.7" y="1011.6">0.25</text>
<path class="ax" d="M169.4 693.4H180.9"/>
<text class="tk" text-anchor="end" x="159.7" y="706.7">0.50</text>
<path class="ax" d="M169.4 388.6H180.9"/>
<text class="tk" text-anchor="end" x="159.7" y="401.9">0.75</text>
<path class="ax" d="M169.4 83.8H180.9"/>
<text class="tk" text-anchor="end" x="159.7" y="97.1">1.00</text>
<path class="ax" d="M695.6 1364.1V1375.6"/>
<text class="tk" text-anchor="middle" x="695.4" y="1412">139,800,000</text>
<path class="ax" d="M1273.7 1364.1V1375.6"/>
<text class="tk" text-anchor="middle" x="1273.5" y="1412">140,000,000</text>
<path class="ax" d="M1851.8 1364.1V1375.6"/>
<text class="tk" text-anchor="middle" x="1851.6" y="1412">140,200,000</text>
<text class="ti" text-anchor="middle" x="1201.8" y="1467">Genomic location of CLSTN2 (GRCh37 chr3:139654027-140296239, gray = exons)</text>
<text class="ti" text-anchor="middle" transform="translate(55.2 693.1) rotate(-90)">CAPICE score (pathogenicity estimate)</text>
<text class="ti" x="2292.9" y="413">Source</text>
<path class="k" d="M2317.8 466.3L2329.3 454.8L2340.8 466.3L2329.3 477.8Z"/>
<rect class="k" x="2321.2" y="529.9" width="16.3" height="16.3"/>
<path class="k" d="M2317.8 610.5H2340.8M2329.3 599V622M2321.2 602.4L2337.4 618.6M2321.2 618.6L2337.4 602.4"/>
<text class="lg" x="2373.7" y="479.8">CAPICE Testing</text>
<text class="lg" x="2373.7" y="551.7">CAPICE Training</text>
<text class="lg" x="2373.7" y="624.0">VKGL Oct. 2019</text>
<text class="ti" x="2292.9" y="774">Classification</text>
<circle cx="2329.3" cy="827.3" r="9.62" fill="#21FF0F"/>
<text class="lg" x="2373.7" y="840.7">LB/B</text>
<circle cx="2329.3" cy="899.5" r="9.62" fill="#FC0008"/>
<text class="lg" x="2373.7" y="912.9">LP/P</text>
<circle cx="2329.3" cy="971.4" r="9.62" fill="#0000FF"/>
<text class="lg" x="2373.7" y="984.8">VUS</text>
</svg></body></html>
